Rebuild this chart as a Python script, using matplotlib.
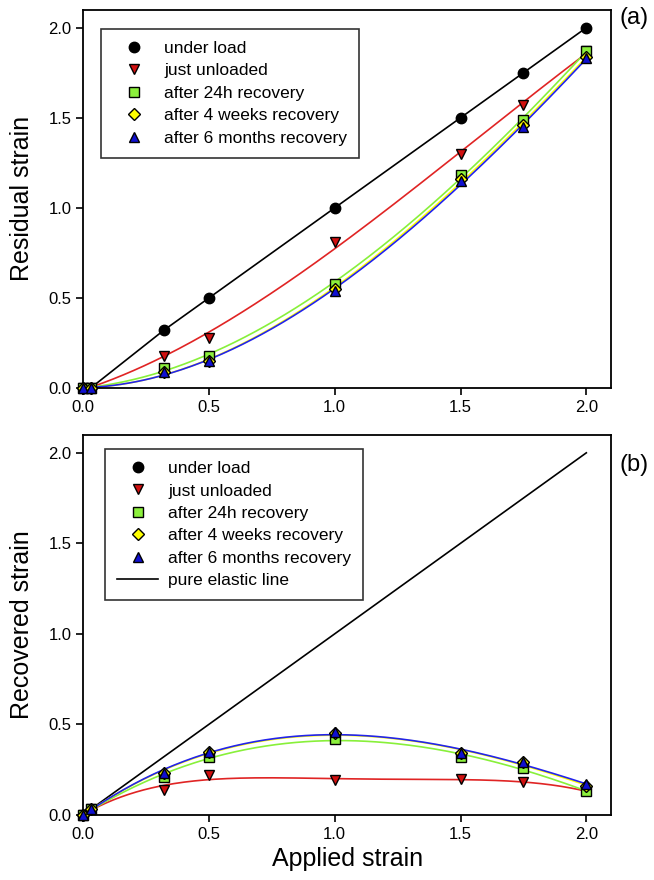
import numpy as np
import matplotlib
matplotlib.use("Agg")
import matplotlib.pyplot as plt

plt.rcParams['font.family'] = ['Liberation Sans', 'DejaVu Sans']

applied = [0.0, 0.03, 0.32, 0.5, 1.0, 1.5, 1.75, 2.0]

# (a) residual strain
res_load = [0.0, 0.0, 0.32, 0.50, 1.00, 1.50, 1.75, 2.00]
res_unloaded = [0.0, 0.0, 0.18, 0.28, 0.81, 1.30, 1.57, 1.87]
res_24h = [0.0, 0.0, 0.11, 0.18, 0.58, 1.18, 1.49, 1.87]
res_4w = [0.0, 0.0, 0.09, 0.15, 0.55, 1.16, 1.46, 1.84]
res_6m = [0.0, 0.0, 0.09, 0.15, 0.54, 1.15, 1.45, 1.83]

# (b) recovered strain
rec_load_x = [0.0]
rec_load = [0.0]
rec_unloaded = [0.0, 0.03, 0.14, 0.22, 0.19, 0.20, 0.18, 0.13]
rec_24h = [0.0, 0.03, 0.21, 0.32, 0.42, 0.32, 0.26, 0.13]
rec_4w = [0.0, 0.03, 0.23, 0.35, 0.45, 0.34, 0.29, 0.16]
rec_6m = [0.0, 0.03, 0.23, 0.35, 0.46, 0.34, 0.29, 0.17]
elastic = [0.0, 2.0]

labels = ["under load", "just unloaded", "after 24h recovery",
          "after 4 weeks recovery", "after 6 months recovery"]

red = '#e02424'
green = '#88f03a'
yellow = '#ffff00'
blue = '#2222ee'

styles = [
    dict(marker='o', mfc='black', ms=7.5),
    dict(marker='v', mfc='#d01010', ms=7.5),
    dict(marker='s', mfc='#8cf03c', ms=6.5),
    dict(marker='D', mfc='#ffff00', ms=6.5),
    dict(marker='^', mfc='#1010d0', ms=7),
]
line_colors = ['black', red, green, yellow, blue]

fig = plt.figure(figsize=(6.54, 8.8), dpi=100)
ax1 = fig.add_axes([0.127, 0.559, 0.808, 0.430])
ax2 = fig.add_axes([0.127, 0.074, 0.808, 0.432])

x = np.array(applied)
xs = np.linspace(0, 2.0, 200)

def setup(ax, ylabel):
    ax.set_xlim(0, 2.1)
    ax.set_ylim(0, 2.1)
    ax.set_xticks([0, 0.5, 1.0, 1.5, 2.0])
    ax.set_yticks([0, 0.5, 1.0, 1.5, 2.0])
    ax.xaxis.set_major_formatter(matplotlib.ticker.FormatStrFormatter('%.1f'))
    ax.yaxis.set_major_formatter(matplotlib.ticker.FormatStrFormatter('%.1f'))
    ax.tick_params(direction='out', length=5, width=1.2, labelsize=12,
                   top=False, right=False)
    for s in ax.spines.values():
        s.set_linewidth(1.3)
    ax.set_ylabel(ylabel, fontsize=18, labelpad=10)

legkw = dict(loc='upper left', fontsize=12.5, frameon=True, fancybox=False,
             edgecolor='black', labelspacing=0.42, handlelength=2.36,
             handletextpad=0.57, borderpad=0.7, borderaxespad=0)

# ---- panel (a)
ax = ax1
ax.plot(x, res_load, color='black', lw=1.2, zorder=2)
for ys, c in zip([res_unloaded, res_24h, res_4w, res_6m], line_colors[1:]):
    p = np.polyfit(x, ys, 3)
    ax.plot(xs, np.clip(np.polyval(p, xs), 0, None), color=c, lw=1.2, zorder=2)
handles = []
for ys, st, lab in zip([res_load, res_unloaded, res_24h, res_4w, res_6m], styles, labels):
    h, = ax.plot(x, ys, ls='none', mec='black', mew=1.0, label=lab,
                 clip_on=False, zorder=3, **st)
    handles.append(h)
setup(ax, 'Residual strain')
leg = ax.legend(handles=handles, bbox_to_anchor=(0.034, 0.95), **legkw)
leg.get_frame().set_linewidth(1.2)
fig.text(0.947, 0.979, '(a)', fontsize=17, ha='left', va='center')

# ---- panel (b)
ax = ax2
el, = ax.plot([0.0, 2.0], elastic, color='black', lw=1.2, zorder=2, label='pure elastic line')
for ys, c, deg in zip([rec_unloaded, rec_24h, rec_4w, rec_6m], line_colors[1:], [4, 3, 3, 3]):
    p = np.polyfit(x, ys, deg)
    ax.plot(xs, np.polyval(p, xs), color=c, lw=1.2, zorder=2)
handles = []
h, = ax.plot(rec_load_x, rec_load, ls='none', mec='black', mew=1.0, label=labels[0],
             clip_on=False, zorder=3, **styles[0])
handles.append(h)
for ys, st, lab in zip([rec_unloaded, rec_24h, rec_4w, rec_6m], styles[1:], labels[1:]):
    h, = ax.plot(x, ys, ls='none', mec='black', mew=1.0, label=lab,
                 clip_on=False, zorder=3, **st)
    handles.append(h)
handles.append(el)
setup(ax, 'Recovered strain')
ax.set_xlabel('Applied strain', fontsize=18, labelpad=4)
leg = ax.legend(handles=handles, bbox_to_anchor=(0.042, 0.963), **legkw)
leg.get_frame().set_linewidth(1.2)
fig.text(0.947, 0.472, '(b)', fontsize=17, ha='left', va='center')

fig.savefig('out.png', dpi=100)
